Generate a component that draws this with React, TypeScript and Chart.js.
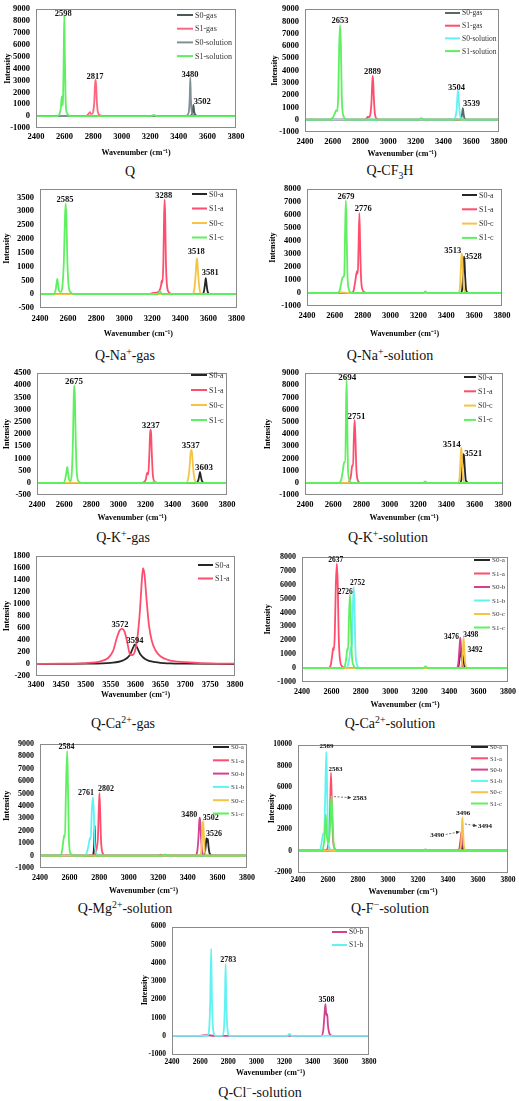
import React, { useEffect, useRef } from 'react';
import { Chart, registerables } from 'chart.js';

Chart.register(...registerables);

type Pt = [number, number];

// ---------- Q ----------
const Q_S0_GAS: Pt[] = [[2400,0],[3470,0],[3490,100],[3497,400],[3502,950],[3507,400],[3515,100],[3540,0],[3800,0]];
const Q_S1_GAS: Pt[] = [[2400,0],[2740,0],[2760,80],[2772,250],[2778,330],[2784,200],[2792,180],[2800,350],[2808,1200],[2813,2600],[2817,3060],[2821,2600],[2826,1200],[2834,300],[2850,60],[2880,0],[3800,0]];
const Q_S0_SOL: Pt[] = [[2400,0],[3440,0],[3460,80],[3470,400],[3476,1500],[3480,3230],[3484,1500],[3490,400],[3500,100],[3520,0],[3800,0]];
const Q_S1_SOL: Pt[] = [[2400,0],[2550,0],[2565,200],[2574,700],[2580,1650],[2585,900],[2590,1800],[2594,5000],[2598,8450],[2602,5000],[2607,1500],[2615,300],[2640,0],[3200,0],[3225,100],[3245,0],[3800,0]];

// ---------- Q-CF3H ----------
const CF_S0_GAS: Pt[] = [[2400,0],[3515,0],[3528,150],[3534,500],[3539,950],[3544,500],[3550,150],[3565,0],[3800,0]];
const CF_S1_GAS: Pt[] = [[2400,0],[2830,0],[2845,120],[2855,250],[2862,200],[2870,350],[2880,1500],[2885,2900],[2889,3570],[2893,2900],[2898,1500],[2906,350],[2920,60],[2940,0],[3800,0]];
const CF_S0_SOL: Pt[] = [[2400,0],[3470,0],[3485,200],[3495,900],[3500,1900],[3504,2360],[3508,1900],[3514,900],[3522,200],[3540,0],[3800,0]];
const CF_S1_SOL: Pt[] = [[2400,0],[2580,0],[2600,150],[2615,500],[2625,780],[2632,700],[2640,2000],[2647,6000],[2653,7690],[2659,6000],[2665,2000],[2675,400],[2700,0],[3220,0],[3240,120],[3260,0],[3800,0]];

// ---------- Q-Na+-gas ----------
const NAG_S0A: Pt[] = [[2400,0],[3555,0],[3568,100],[3576,380],[3581,580],[3586,380],[3594,100],[3610,0],[3800,0]];
const NAG_S1A: Pt[] = [[2400,0],[3180,0],[3200,40],[3230,60],[3250,120],[3262,300],[3268,500],[3273,420],[3279,1200],[3284,2800],[3288,3420],[3292,2800],[3297,1200],[3305,300],[3320,60],[3345,0],[3800,0]];
const NAG_S0C: Pt[] = [[2400,0],[3485,0],[3500,200],[3510,800],[3515,1200],[3518,1290],[3521,1200],[3526,800],[3536,200],[3550,0],[3800,0]];
const NAG_S1C: Pt[] = [[2400,0],[2495,0],[2510,120],[2518,380],[2523,550],[2528,380],[2536,120],[2548,80],[2560,300],[2570,1200],[2578,2800],[2583,3270],[2588,2800],[2595,1200],[2604,300],[2620,60],[2645,0],[3235,0],[3255,100],[3270,0],[3800,0]];

// ---------- Q-Na+-solution ----------
const NAS_S0A: Pt[] = [[2400,0],[3500,0],[3513,200],[3520,1200],[3525,2400],[3528,2790],[3531,2400],[3536,1200],[3543,200],[3560,0],[3800,0]];
const NAS_S1A: Pt[] = [[2400,0],[2720,0],[2735,200],[2745,800],[2755,1500],[2760,1700],[2765,1500],[2770,3500],[2776,6140],[2782,3500],[2788,1200],[2797,300],[2815,50],[2830,0],[3800,0]];
const NAS_S0C: Pt[] = [[2400,0],[2600,0],[2640,50],[2700,0],[3485,0],[3497,300],[3503,1500],[3508,2700],[3511,3030],[3515,2700],[3520,1500],[3527,300],[3545,0],[3800,0]];
const NAS_S1C: Pt[] = [[2400,0],[2620,0],[2635,200],[2645,700],[2655,1200],[2662,1230],[2668,1500],[2674,5000],[2679,7130],[2684,5000],[2690,1500],[2700,300],[2720,0],[3235,0],[3250,120],[3265,0],[3800,0]];

// ---------- Q-K+-gas ----------
const KG_S0A: Pt[] = [[2400,0],[3575,0],[3588,100],[3596,300],[3601,450],[3606,300],[3614,100],[3630,0],[3800,0]];
const KG_S1A: Pt[] = [[2400,0],[3170,0],[3190,40],[3202,150],[3210,380],[3215,420],[3220,350],[3228,1200],[3233,2000],[3237,2180],[3241,2000],[3246,1200],[3254,300],[3268,50],[3290,0],[3800,0]];
const KG_S0C: Pt[] = [[2400,0],[3500,0],[3515,200],[3525,700],[3532,1250],[3537,1350],[3542,1250],[3549,700],[3559,200],[3575,0],[3800,0]];
const KG_S1C: Pt[] = [[2400,0],[2595,0],[2608,150],[2617,450],[2623,650],[2628,450],[2635,150],[2645,60],[2655,300],[2665,1800],[2671,3600],[2675,4000],[2679,3600],[2685,1800],[2695,300],[2710,40],[2730,0],[3250,0],[3262,60],[3275,0],[3800,0]];

// ---------- Q-K+-solution ----------
const KS_S0A: Pt[] = [[2400,0],[3495,0],[3505,200],[3512,1200],[3517,2100],[3521,2350],[3525,2100],[3530,1200],[3537,200],[3555,0],[3800,0]];
const KS_S1A: Pt[] = [[2400,0],[2700,0],[2715,150],[2725,600],[2732,1300],[2736,1460],[2740,1400],[2745,3500],[2751,5160],[2757,3500],[2763,1200],[2772,250],[2790,0],[3800,0]];
const KS_S0C: Pt[] = [[2400,0],[3480,0],[3492,300],[3498,1500],[3502,2500],[3505,2890],[3508,2500],[3512,1500],[3519,300],[3535,0],[3800,0]];
const KS_S1C: Pt[] = [[2400,0],[2640,0],[2655,200],[2665,800],[2675,1600],[2680,1720],[2685,1700],[2690,6000],[2694,8390],[2698,6000],[2703,1500],[2712,300],[2730,0],[3235,0],[3250,120],[3265,0],[3800,0]];

// ---------- Q-Ca2+-gas ----------
const CAG_S0A: Pt[] = [[3400,0],[3500,5],[3550,20],[3575,60],[3588,140],[3594,250],[3599,328],[3604,260],[3610,160],[3620,80],[3640,30],[3670,10],[3700,5],[3800,0]];
const CAG_S1A: Pt[] = [[3400,0],[3450,5],[3500,15],[3530,45],[3545,100],[3555,220],[3563,450],[3568,560],[3573,585],[3578,540],[3583,380],[3589,160],[3594,150],[3600,250],[3605,520],[3609,900],[3612,1300],[3615,1600],[3618,1500],[3622,1100],[3627,650],[3633,380],[3640,230],[3650,130],[3665,70],[3700,30],[3750,10],[3800,5]];

// ---------- Q-Ca2+-solution ----------
const CAS_S0A: Pt[] = [[2400,0],[3455,0],[3465,200],[3472,900],[3478,1450],[3483,900],[3488,700],[3492,950],[3497,600],[3505,150],[3520,0],[3800,0]];
const CAS_S1A: Pt[] = [[2400,0],[2580,0],[2595,200],[2605,900],[2612,1450],[2617,1300],[2623,2500],[2630,6000],[2637,7510],[2643,6000],[2649,2500],[2658,600],[2675,100],[2700,0],[3800,0]];
const CAS_S0B: Pt[] = [[2400,0],[3450,0],[3462,300],[3470,1400],[3476,2180],[3481,1400],[3488,300],[3500,0],[3800,0]];
const CAS_S1B: Pt[] = [[2400,0],[2700,0],[2712,200],[2722,700],[2730,1400],[2735,1500],[2740,1800],[2746,4500],[2752,5810],[2757,4500],[2762,1600],[2772,300],[2790,0],[3800,0]];
const CAS_S0C: Pt[] = [[2400,0],[3475,0],[3487,300],[3494,1400],[3498,2180],[3503,1400],[3510,300],[3525,0],[3800,0]];
const CAS_S1C: Pt[] = [[2400,0],[2680,0],[2693,200],[2702,800],[2708,1400],[2713,1300],[2719,3500],[2726,5300],[2732,3500],[2739,900],[2750,200],[2765,0],[3225,0],[3240,120],[3255,0],[3800,0]];

// ---------- Q-Mg2+-solution ----------
const MG_S0A: Pt[] = [[2400,0],[2755,0],[2765,600],[2770,2450],[2774,600],[2785,0],[3505,0],[3515,200],[3522,900],[3526,1400],[3530,1100],[3535,1350],[3540,700],[3548,150],[3565,0],[3800,0]];
const MG_S1A: Pt[] = [[2400,0],[2760,0],[2775,200],[2785,700],[2792,1500],[2797,3500],[2802,5020],[2807,3500],[2813,1200],[2822,250],[2840,0],[3200,0],[3215,80],[3230,0],[3800,0]];
const MG_S0B: Pt[] = [[2400,0],[3450,0],[3463,300],[3472,1500],[3477,2700],[3480,3060],[3484,2700],[3489,1500],[3497,300],[3510,0],[3800,0]];
const MG_S1B: Pt[] = [[2400,0],[2700,0],[2715,200],[2728,800],[2738,1430],[2743,1300],[2750,3500],[2758,4700],[2764,3500],[2770,1000],[2780,200],[2800,0],[3800,0]];
const MG_S0C: Pt[] = [[2400,0],[3480,0],[3490,300],[3496,1500],[3500,2500],[3502,2750],[3505,2500],[3509,1500],[3515,300],[3528,0],[3800,0]];
const MG_S1C: Pt[] = [[2400,0],[2535,0],[2548,300],[2558,1200],[2564,1640],[2569,1500],[2575,5000],[2584,8430],[2590,5000],[2596,1200],[2606,200],[2625,0],[3230,0],[3245,100],[3260,0],[3800,0]];

// ---------- Q-F−-solution ----------
const F_S0A: Pt[] = [[2400,0],[3480,0],[3488,300],[3493,900],[3498,300],[3510,0],[3800,0]];
const F_S1A: Pt[] = [[2400,0],[2585,0],[2598,300],[2606,1200],[2613,3500],[2620,7350],[2627,3500],[2634,1000],[2645,200],[2665,0],[3800,0]];
const F_S0B: Pt[] = [[2400,0],[3465,0],[3477,300],[3485,1200],[3490,1770],[3495,1200],[3503,300],[3515,0],[3800,0]];
const F_S1B: Pt[] = [[2400,0],[2540,0],[2552,300],[2562,1200],[2568,1600],[2574,1500],[2581,5000],[2589,9330],[2595,5000],[2601,1200],[2612,200],[2630,0],[3800,0]];
const F_S0C: Pt[] = [[2400,0],[3475,0],[3486,400],[3492,2000],[3496,3130],[3500,2000],[3507,400],[3520,0],[3800,0]];
const F_S1C: Pt[] = [[2400,0],[2555,0],[2568,300],[2578,1500],[2585,3430],[2592,1500],[2600,800],[2610,1500],[2617,3500],[2623,5150],[2629,3500],[2637,800],[2650,100],[2670,0],[3240,0],[3250,150],[3260,0],[3800,0]];

// ---------- Q-Cl−-solution ----------
const CL_S0B: Pt[] = [[2400,0],[2600,0],[2650,30],[2700,0],[3460,0],[3475,300],[3484,1200],[3490,1740],[3495,1300],[3499,1100],[3503,1200],[3508,600],[3520,100],[3540,0],[3800,0]];
const CL_S1B: Pt[] = [[2400,0],[2650,0],[2663,300],[2672,2000],[2678,4770],[2684,2000],[2693,300],[2710,0],[2755,0],[2768,300],[2776,1800],[2781,3930],[2786,1800],[2795,300],[2810,0],[3220,0],[3235,100],[3250,0],[3800,0]];

// ---------- styles ----------
const C_BLACK = '#262626';
const C_RED = '#ff4d6d';
const C_YELLOW = '#f6c445';
const C_GREEN = '#5ef05e';
const C_MAGENTA = '#d4418f';
const C_CYAN = '#62f2f2';
const FONT = '"Liberation Serif", "Times New Roman", serif';

interface Series { name: string; color: string; pts: Pt[] }
interface Label { text: string; x: number; y: number; align?: CanvasTextAlign }
interface Arrow { x1: number; y1: number; x2: number; y2: number }
interface PanelDef {
  box: { l: number; t: number; r: number; b: number };
  x: [number, number, number];
  y: [number, number, number];
  yTitleX: number;
  xTitleY: number;
  xTickPad: number;
  tickSize: number;
  labelSize: number;
  legend: { x: number; y: number; dy: number; len: number; size: number };
  series: Series[];
  labels: Label[];
  arrows?: Arrow[];
  caption: React.ReactNode;
  capX: number;
  capY: number;
}

const abc = (a: Pt[], b: Pt[], c: Pt[], d: Pt[]): Series[] => [
  { name: 'S0-a', color: C_BLACK, pts: a },
  { name: 'S1-a', color: C_RED, pts: b },
  { name: 'S0-c', color: C_YELLOW, pts: c },
  { name: 'S1-c', color: C_GREEN, pts: d },
];
const six = (a: Pt[], b: Pt[], c: Pt[], d: Pt[], e: Pt[], f: Pt[]): Series[] => [
  { name: 'S0-a', color: C_BLACK, pts: a },
  { name: 'S1-a', color: C_RED, pts: b },
  { name: 'S0-b', color: C_MAGENTA, pts: c },
  { name: 'S1-b', color: C_CYAN, pts: d },
  { name: 'S0-c', color: C_YELLOW, pts: e },
  { name: 'S1-c', color: C_GREEN, pts: f },
];

const WX: [number, number, number] = [2400, 3800, 200];
const SUP = { fontSize: '0.7em' };

const PANELS: PanelDef[] = [
  {
    box: { l: 36, t: 5, r: 236, b: 128 }, x: WX, y: [-1000, 9000, 1000],
    yTitleX: 8, xTitleY: 153, xTickPad: 4, tickSize: 8.5, labelSize: 8.5,
    legend: { x: 177, y: 15, dy: 13.7, len: 16, size: 8 },
    series: [
      { name: 'S0-gas', color: '#4b5759', pts: Q_S0_GAS },
      { name: 'S1-gas', color: '#ff6680', pts: Q_S1_GAS },
      { name: 'S0-solution', color: '#7f9099', pts: Q_S0_SOL },
      { name: 'S1-solution', color: C_GREEN, pts: Q_S1_SOL },
    ],
    labels: [
      { text: '2598', x: 2590, y: 8600 }, { text: '2817', x: 2813, y: 3300 },
      { text: '3480', x: 3478, y: 3500 }, { text: '3502', x: 3564, y: 1220 },
    ],
    caption: 'Q', capX: 130, capY: 172,
  },
  {
    box: { l: 305, t: 5, r: 499, b: 132 }, x: WX, y: [-1000, 9000, 1000],
    yTitleX: 275, xTitleY: 154, xTickPad: 5, tickSize: 8.5, labelSize: 8.5,
    legend: { x: 445, y: 13, dy: 12.7, len: 15, size: 7.5 },
    series: [
      { name: 'S0-gas', color: '#5e6666', pts: CF_S0_GAS },
      { name: 'S1-gas', color: C_RED, pts: CF_S1_GAS },
      { name: 'S0-solution', color: C_CYAN, pts: CF_S0_SOL },
      { name: 'S1-solution', color: C_GREEN, pts: CF_S1_SOL },
    ],
    labels: [
      { text: '2653', x: 2652, y: 8080 }, { text: '2889', x: 2888, y: 3880 },
      { text: '3504', x: 3494, y: 2620 }, { text: '3539', x: 3602, y: 1310 },
    ],
    caption: <>Q-CF<sub style={SUP}>3</sub>H</>, capX: 390, capY: 172,
  },
  {
    box: { l: 40, t: 185, r: 237, b: 308 }, x: WX, y: [-500, 3800, 500],
    yTitleX: 7, xTitleY: 334, xTickPad: 6, tickSize: 8.5, labelSize: 8.5,
    legend: { x: 192, y: 194, dy: 14.5, len: 15, size: 8 },
    series: abc(NAG_S0A, NAG_S1A, NAG_S0C, NAG_S1C),
    labels: [
      { text: '2585', x: 2578, y: 3405 }, { text: '3288', x: 3281, y: 3545 },
      { text: '3518', x: 3513, y: 1535 }, { text: '3581', x: 3613, y: 775 },
    ],
    caption: <>Q-Na<sup style={SUP}>+</sup>-gas</>, capX: 125, capY: 355,
  },
  {
    box: { l: 307, t: 185, r: 502, b: 306 }, x: WX, y: [-1000, 8000, 1000],
    yTitleX: 273, xTitleY: 334, xTickPad: 5, tickSize: 8.5, labelSize: 8.5,
    legend: { x: 462, y: 195, dy: 14.3, len: 15, size: 8 },
    series: abc(NAS_S0A, NAS_S1A, NAS_S0C, NAS_S1C),
    labels: [
      { text: '2679', x: 2680, y: 7430 }, { text: '2776', x: 2804, y: 6500 },
      { text: '3513', x: 3446, y: 3220 }, { text: '3528', x: 3594, y: 2790 },
    ],
    caption: <>Q-Na<sup style={SUP}>+</sup>-solution</>, capX: 390, capY: 355,
  },
  {
    box: { l: 37, t: 369, r: 227, b: 495 }, x: WX, y: [-500, 4500, 500],
    yTitleX: 7, xTitleY: 518, xTickPad: 5, tickSize: 8.5, labelSize: 9,
    legend: { x: 191, y: 375, dy: 15, len: 16, size: 8 },
    series: abc(KG_S0A, KG_S1A, KG_S0C, KG_S1C),
    labels: [
      { text: '2675', x: 2673, y: 4155 }, { text: '3237', x: 3238, y: 2345 },
      { text: '3537', x: 3533, y: 1510 }, { text: '3603', x: 3630, y: 620 },
    ],
    caption: <>Q-K<sup style={SUP}>+</sup>-gas</>, capX: 123, capY: 537,
  },
  {
    box: { l: 305, t: 369, r: 503, b: 495 }, x: WX, y: [-1000, 9000, 1000],
    yTitleX: 268, xTitleY: 518, xTickPad: 5, tickSize: 8.5, labelSize: 9,
    legend: { x: 464, y: 377, dy: 14.3, len: 12, size: 8 },
    series: abc(KS_S0A, KS_S1A, KS_S0C, KS_S1C),
    labels: [
      { text: '2694', x: 2699, y: 8660 }, { text: '2751', x: 2765, y: 5430 },
      { text: '3514', x: 3437, y: 3150 }, { text: '3521', x: 3590, y: 2370 },
    ],
    caption: <>Q-K<sup style={SUP}>+</sup>-solution</>, capX: 388, capY: 537,
  },
  {
    box: { l: 36, t: 552, r: 235, b: 676 }, x: [3400, 3800, 50], y: [-200, 1800, 200],
    yTitleX: 7, xTitleY: 695, xTickPad: 4, tickSize: 8.5, labelSize: 8.5,
    legend: { x: 198, y: 565, dy: 13.5, len: 15, size: 8 },
    series: [
      { name: 'S0-a', color: C_BLACK, pts: CAG_S0A },
      { name: 'S1-a', color: C_RED, pts: CAG_S1A },
    ],
    labels: [{ text: '3572', x: 3569, y: 650 }, { text: '3594', x: 3599, y: 392 }],
    caption: <>Q-Ca<sup style={SUP}>2+</sup>-gas</>, capX: 123, capY: 723,
  },
  {
    box: { l: 302, t: 553, r: 508, b: 682 }, x: WX, y: [-1000, 8000, 1000],
    yTitleX: 268, xTitleY: 705, xTickPad: 5, tickSize: 8, labelSize: 7.5,
    legend: { x: 474, y: 560, dy: 13.5, len: 16, size: 7 },
    series: six(CAS_S0A, CAS_S1A, CAS_S0B, CAS_S1B, CAS_S0C, CAS_S1C),
    labels: [
      { text: '2637', x: 2630, y: 7740 }, { text: '2726', x: 2694, y: 5490 },
      { text: '2752', x: 2778, y: 6140 }, { text: '3476', x: 3416, y: 2210 },
      { text: '3498', x: 3546, y: 2400 }, { text: '3492', x: 3575, y: 1300 },
    ],
    caption: <>Q-Ca<sup style={SUP}>2+</sup>-solution</>, capX: 390, capY: 723,
  },
  {
    box: { l: 40, t: 740, r: 247, b: 868 }, x: WX, y: [-1000, 9000, 1000],
    yTitleX: 7, xTitleY: 891, xTickPad: 5, tickSize: 8, labelSize: 8,
    legend: { x: 213, y: 747, dy: 13.3, len: 16, size: 7 },
    series: six(MG_S0A, MG_S1A, MG_S0B, MG_S1B, MG_S0C, MG_S1C),
    labels: [
      { text: '2584', x: 2580, y: 8740 }, { text: '2761', x: 2711, y: 5020 },
      { text: '2802', x: 2846, y: 5350 }, { text: '3480', x: 3410, y: 3270 },
      { text: '3502', x: 3554, y: 3060 }, { text: '3526', x: 3576, y: 1710 },
    ],
    caption: <>Q-Mg<sup style={SUP}>2+</sup>-solution</>, capX: 125, capY: 908,
  },
  {
    box: { l: 298, t: 741, r: 508, b: 872 }, x: WX, y: [-2000, 10000, 2000],
    yTitleX: 272, xTitleY: 892, xTickPad: 4, tickSize: 7.5, labelSize: 7,
    legend: { x: 471, y: 747, dy: 11.3, len: 17, size: 6.5 },
    series: six(F_S0A, F_S1A, F_S0B, F_S1B, F_S0C, F_S1C),
    labels: [
      { text: '2589', x: 2590, y: 9800 }, { text: '2583', x: 2650, y: 7700 },
      { text: '2583', x: 2765, y: 4960, align: 'left' }, { text: '3496', x: 3502, y: 3550 },
      { text: '3494', x: 3600, y: 2310, align: 'left' }, { text: '3490', x: 3329, y: 1470 },
    ],
    arrows: [
      { x1: 2640, y1: 5100, x2: 2755, y2: 4980 },
      { x1: 3513, y1: 2520, x2: 3592, y2: 2340 },
      { x1: 3385, y1: 1530, x2: 3478, y2: 1790 },
    ],
    caption: <>Q-F<sup style={SUP}>−</sup>-solution</>, capX: 390, capY: 908,
  },
  {
    box: { l: 172, t: 923, r: 369, b: 1054 }, x: WX, y: [-1000, 6000, 1000],
    yTitleX: 145, xTitleY: 1073, xTickPad: 4, tickSize: 7.5, labelSize: 8,
    legend: { x: 332, y: 932, dy: 13, len: 15, size: 7.5 },
    series: [
      { name: 'S0-b', color: C_MAGENTA, pts: CL_S0B },
      { name: 'S1-b', color: C_CYAN, pts: CL_S1B },
    ],
    labels: [{ text: '2783', x: 2800, y: 4145 }, { text: '3508', x: 3498, y: 1970 }],
    caption: <>Q-Cl<sup style={SUP}>−</sup>-solution</>, capX: 260, capY: 1092,
  },
];

function stepTicks(min: number, max: number, step: number) {
  const out: { value: number }[] = [];
  for (let v = min; v <= max + 1e-9; v += step) out.push({ value: v });
  return out;
}

function Panel({ p }: { p: PanelDef }) {
  const ref = useRef<HTMLCanvasElement>(null);
  const titleSize = 8;
  const lh = titleSize * 1.2;
  const canvasLeft = Math.round(p.yTitleX - lh / 2);
  const axW = p.box.l - canvasLeft;
  const padT = 7;
  const padR = 14;
  const canvasTop = p.box.t - padT;
  const axH = Math.round(p.xTitleY + lh / 2 - p.box.b);
  const width = axW + (p.box.r - p.box.l) + padR;
  const height = padT + (p.box.b - p.box.t) + axH;

  useEffect(() => {
    if (!ref.current) return;
    const n = p.series.length;
    const plugin = {
      id: 'panelExtras',
      afterDatasetsDraw(chart: any) {
        const { ctx, chartArea, scales } = chart;
        const xs = scales.x;
        const ys = scales.y;
        ctx.save();
        ctx.strokeStyle = '#8a8a8a';
        ctx.lineWidth = 1;
        ctx.strokeRect(Math.round(chartArea.left) + 0.5, Math.round(chartArea.top) + 0.5,
          Math.round(chartArea.width) - 1, Math.round(chartArea.height) - 1);
        (p.arrows || []).forEach((a) => {
          const x1 = xs.getPixelForValue(a.x1), y1 = ys.getPixelForValue(a.y1);
          const x2 = xs.getPixelForValue(a.x2), y2 = ys.getPixelForValue(a.y2);
          ctx.strokeStyle = '#555';
          ctx.lineWidth = 0.8;
          ctx.setLineDash([2, 1.5]);
          ctx.beginPath(); ctx.moveTo(x1, y1); ctx.lineTo(x2, y2); ctx.stroke();
          ctx.setLineDash([]);
          const ang = Math.atan2(y2 - y1, x2 - x1);
          ctx.fillStyle = '#333';
          ctx.beginPath();
          ctx.moveTo(x2, y2);
          ctx.lineTo(x2 - 4 * Math.cos(ang - 0.45), y2 - 4 * Math.sin(ang - 0.45));
          ctx.lineTo(x2 - 4 * Math.cos(ang + 0.45), y2 - 4 * Math.sin(ang + 0.45));
          ctx.closePath(); ctx.fill();
        });
        ctx.fillStyle = '#111';
        ctx.font = `bold ${p.labelSize}px ${FONT}`;
        ctx.textBaseline = 'middle';
        p.labels.forEach((l) => {
          ctx.textAlign = l.align || 'center';
          ctx.fillText(l.text, xs.getPixelForValue(l.x), ys.getPixelForValue(l.y));
        });
        ctx.font = `${p.legend.size}px ${FONT}`;
        ctx.textAlign = 'left';
        p.series.forEach((s, i) => {
          const lx = p.legend.x - canvasLeft;
          const ly = p.legend.y - canvasTop + i * p.legend.dy;
          ctx.strokeStyle = s.color;
          ctx.lineWidth = 2;
          ctx.beginPath(); ctx.moveTo(lx, ly); ctx.lineTo(lx + p.legend.len, ly); ctx.stroke();
          ctx.fillStyle = '#333';
          ctx.fillText(s.name, lx + p.legend.len + 2, ly + 0.5);
        });
        ctx.restore();
      },
    };
    const tickFont = { family: FONT, size: p.tickSize, weight: 'bold' as const };
    const titleFont = { family: FONT, size: titleSize, weight: 'bold' as const };
    const chart = new Chart(ref.current, {
      type: 'line',
      data: {
        datasets: p.series.map((s, i) => ({
          label: s.name,
          data: s.pts.map(([x, y]) => ({ x, y })),
          borderColor: s.color,
          backgroundColor: s.color,
          borderWidth: 1.8,
          pointRadius: 0,
          cubicInterpolationMode: 'monotone' as const,
          order: n - 1 - i,
        })),
      },
      options: {
        responsive: false,
        animation: false,
        devicePixelRatio: 1,
        events: [],
        layout: { padding: { top: padT, right: padR, left: 0, bottom: 0 } },
        plugins: { legend: { display: false }, tooltip: { enabled: false } },
        scales: {
          x: {
            type: 'linear',
            min: p.x[0], max: p.x[1],
            grid: { display: false, drawTicks: false },
            border: { display: false },
            afterBuildTicks: (s: any) => { s.ticks = stepTicks(p.x[0], p.x[1], p.x[2]); },
            ticks: { autoSkip: false, maxRotation: 0, padding: p.xTickPad, font: tickFont, color: '#000', callback: (v: any) => String(v) },
            title: { display: true, text: 'Wavenumber (cm⁻¹)', font: titleFont, color: '#000', padding: 0 },
            afterFit: (s: any) => { s.height = axH; },
          },
          y: {
            type: 'linear',
            min: p.y[0], max: p.y[1],
            grid: { display: false, drawTicks: false },
            border: { display: false },
            afterBuildTicks: (s: any) => { s.ticks = stepTicks(p.y[0], p.y[1], p.y[2]); },
            ticks: { autoSkip: false, padding: 6, font: tickFont, color: '#000', callback: (v: any) => String(v) },
            title: { display: true, text: 'Intensity', font: titleFont, color: '#000', padding: 0 },
            afterFit: (s: any) => { s.width = axW; },
          },
        },
      } as any,
      plugins: [plugin],
    });
    return () => chart.destroy();
  }, [p]);

  return (
    <>
      <canvas
        ref={ref}
        width={width}
        height={height}
        style={{ position: 'absolute', left: canvasLeft, top: canvasTop, width, height }}
      />
      <div
        style={{
          position: 'absolute', left: p.capX, top: p.capY, transform: 'translate(-50%, -50%)',
          fontFamily: FONT, fontSize: 14, whiteSpace: 'nowrap', color: '#111', lineHeight: 1,
        }}
      >
        {p.caption}
      </div>
    </>
  );
}

export default function App() {
  return (
    <div style={{ position: 'absolute', left: 0, top: 0, width: 519, height: 1101, background: '#fff' }}>
      {PANELS.map((p, i) => (
        <Panel key={i} p={p} />
      ))}
    </div>
  );
}
